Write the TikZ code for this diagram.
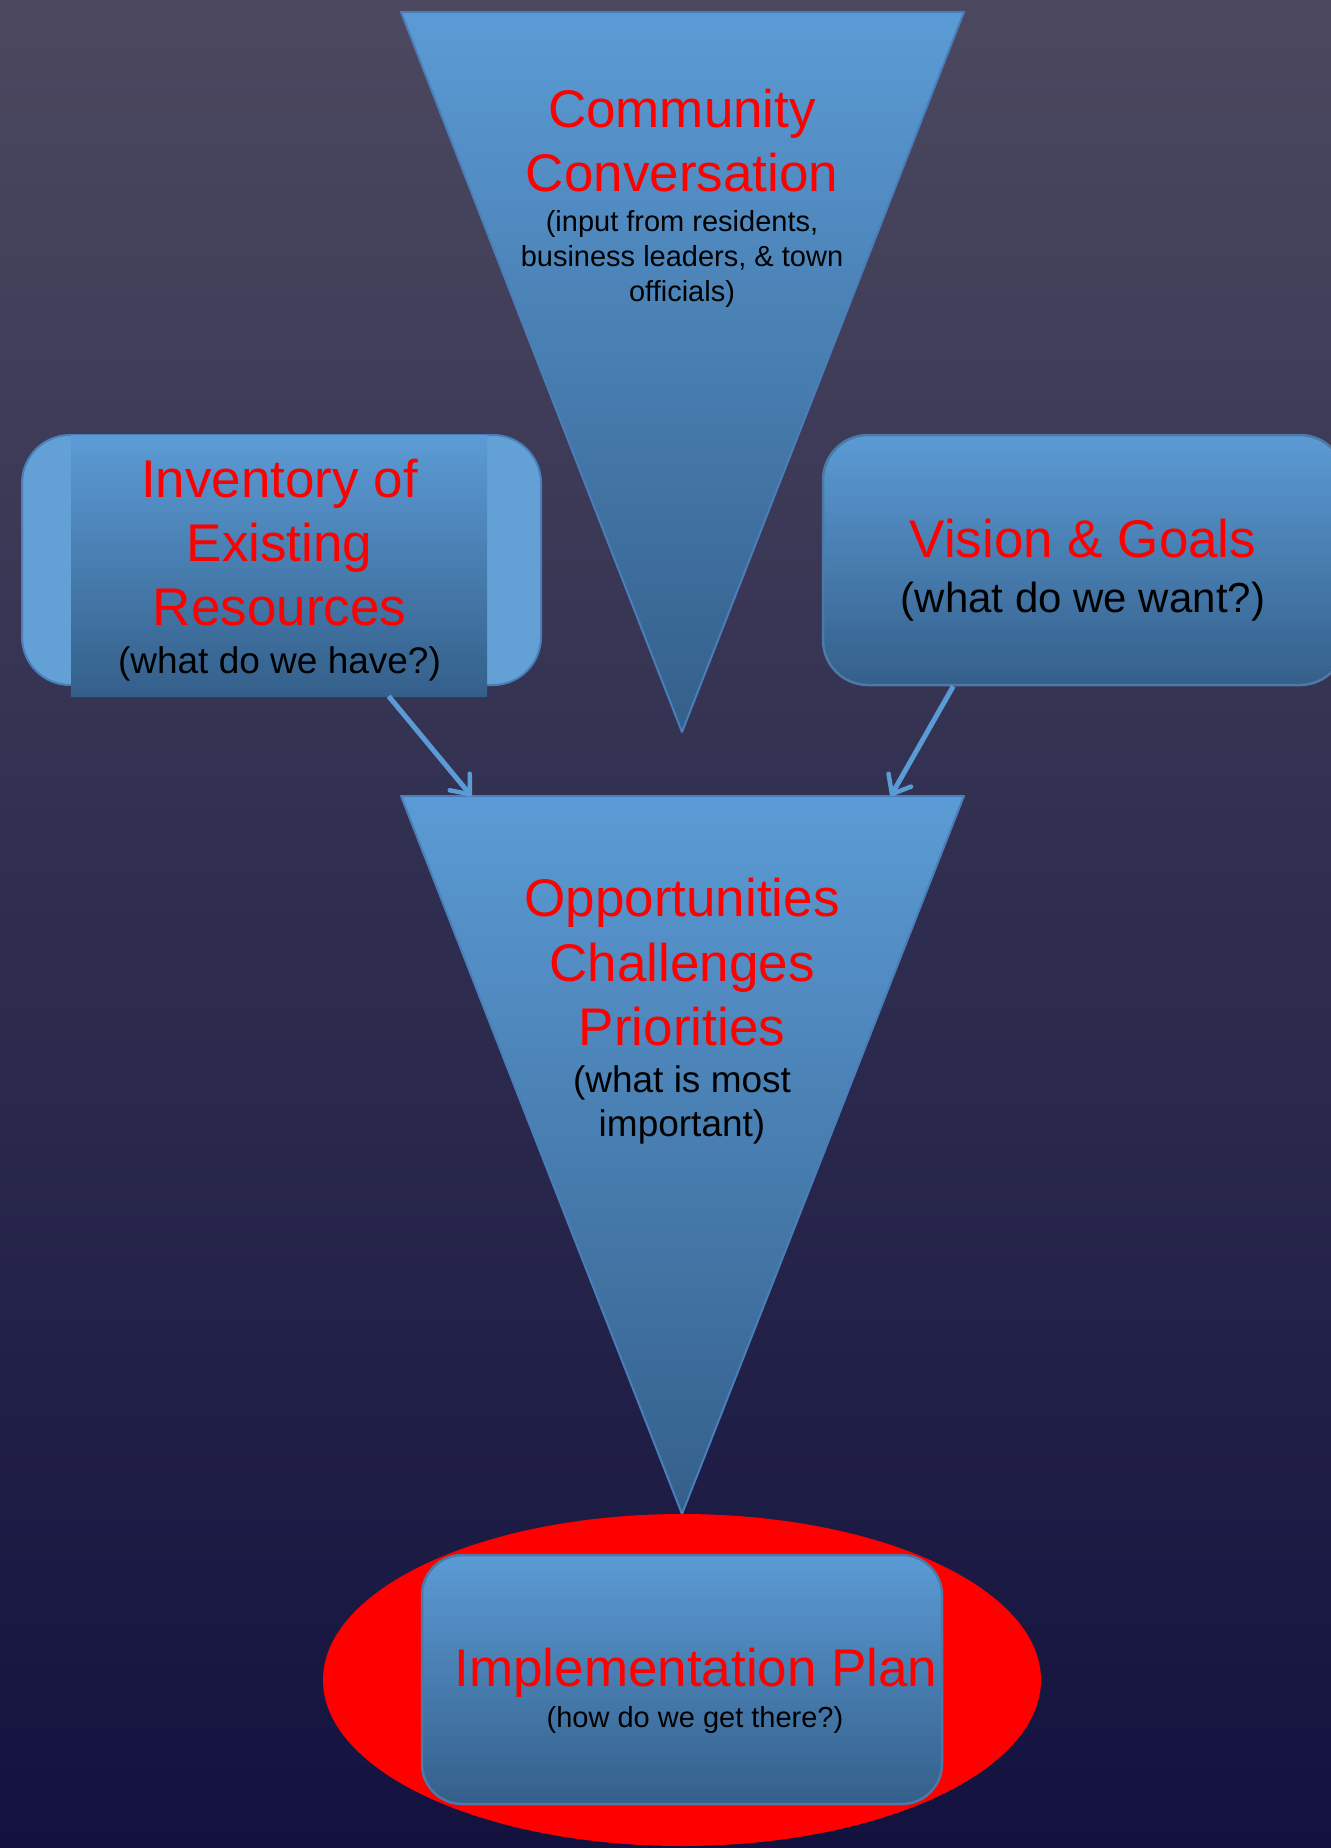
\documentclass[tikz,border=0pt]{standalone}
\usepackage{fontspec}
\setmainfont{Liberation Sans}
\usetikzlibrary{shapes.geometric,arrows.meta,calc}
\definecolor{bgtop}{HTML}{4B485F}
\definecolor{bgbot}{HTML}{13123F}
\definecolor{bluetop}{HTML}{5B9BD5}
\definecolor{bluebot}{HTML}{345F8A}
\definecolor{blueedge}{HTML}{4A7EBB}
\definecolor{bluelight}{HTML}{62A0D6}
\definecolor{boxedge}{HTML}{4C79A6}
\tikzset{
  ttl/.style={font=\fontsize{53}{64}\selectfont, text=red, anchor=base, inner sep=0pt},
  subtxt/.style={font=\fontsize{#1}{#1}\selectfont, text=black, anchor=base, inner sep=0pt},
  funnelshape/.style={top color=bluetop, bottom color=bluebot, draw=blueedge, line width=2pt, line join=round},
  bluebox/.style={top color=bluetop, bottom color=bluebot, draw=boxedge, line width=2.5pt, rounded corners=45pt, inner sep=0pt},
  arrowlink/.style={draw=bluetop, line width=5pt, -{Straight Barb[length=16pt,width=26pt,line width=4.5pt,round]}}
}
\begin{document}
\begin{tikzpicture}[x=1pt,y=-1pt]
\useasboundingbox (0,0) rectangle (1331,1848);
\shade[top color=bgtop, bottom color=bgbot] (0,0) rectangle (1331,1848);

% top funnel
\coordinate (ccL) at (401,12);
\coordinate (ccR) at (964,12);
\coordinate (ccT) at (682,732);
\path[funnelshape] (ccL) -- (ccR) -- (ccT) -- cycle;
\node[ttl] (cc1) at (682,127) {Community};
\node[ttl] (cc2) at (682,191) {Conversation};
\node[subtxt=29] (cc3) at (682,231) {(input from residents,};
\node[subtxt=29] (cc4) at (682,266) {business leaders, \& town};
\node[subtxt=29] (cc5) at (682,301) {officials)};

% inventory
\node[draw=blueedge, fill=bluelight, line width=2pt, rounded corners=48pt,
      minimum width=519pt, minimum height=250pt, inner sep=0pt] (invback) at (281.5,560) {};
\node[top color=bluetop, bottom color=bluebot, minimum width=416pt, minimum height=261pt,
      inner sep=0pt] (inv) at (279,565.5) {};
\node[ttl] (inv1) at (279.5,497) {Inventory of};
\node[ttl] (inv2) at (279.5,561) {Existing};
\node[ttl] (inv3) at (279.5,625) {Resources};
\node[subtxt=37] (inv4) at (279.5,673) {(what do we have?)};

% vision
\node[bluebox, minimum width=522pt, minimum height=250pt] (vis) at (1084,560) {};
\node[ttl] (vis1) at (1083,557) {Vision \& Goals};
\node[subtxt=42] (vis2) at (1083,612) {(what do we want?)};

% bottom funnel
\coordinate (oppL) at (401,796);
\coordinate (oppR) at (964,796);
\coordinate (oppT) at (682,1514);
\path[funnelshape] (oppL) -- (oppR) -- (oppT) -- cycle;
\node[ttl] (opp1) at (682,916) {Opportunities};
\node[ttl] (opp2) at (682,981) {Challenges};
\node[ttl] (opp3) at (682,1045) {Priorities};
\node[subtxt=37] (opp4) at (682,1092) {(what is most};
\node[subtxt=37] (opp5) at (682,1136) {important)};

% implementation
\node[ellipse, fill=red, minimum width=718pt, minimum height=332pt, inner sep=0pt] (ring) at (682,1680) {};
\node[bluebox, rounded corners=40pt, minimum width=520pt, minimum height=249pt] (impl) at (682,1679.5) {};
\node[ttl] (impl1) at (696,1686) {Implementation Plan};
\node[subtxt=29] (impl2) at (695,1727) {(how do we get there?)};

% connectors
\draw[arrowlink] (inv.-50.9) -- ($(oppL)!0.125!(oppR)$);
\draw[arrowlink] (vis.-136.3) -- ($(oppL)!0.870!(oppR)$);
\end{tikzpicture}
\end{document}
